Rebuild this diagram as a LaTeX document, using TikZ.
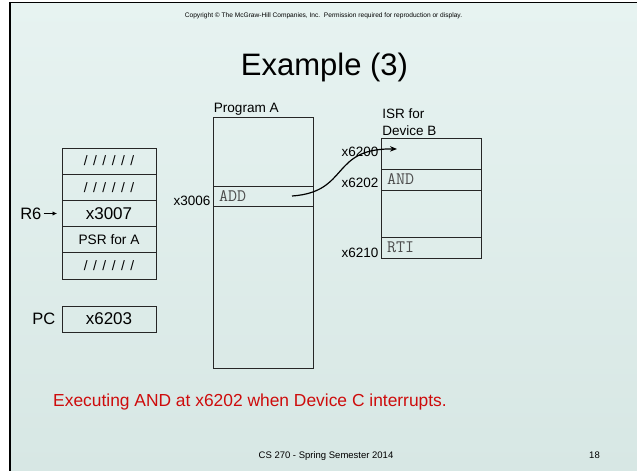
\documentclass[tikz,border=0pt]{standalone}
\usepackage{fontspec}
\setmainfont{Liberation Sans}
\usetikzlibrary{arrows.meta,positioning}
\definecolor{bgtop}{RGB}{231,243,241}
\definecolor{bgbot}{RGB}{215,231,228}
\definecolor{alertred}{RGB}{206,12,12}
\newcommand{\pxfont}[1]{\fontsize{#1}{#1}\selectfont}
\newcommand{\sixslash}{/\kern5.5pt/\kern5.5pt/\kern5.5pt/\kern5.5pt/\kern5.5pt/}
\begin{document}
\begin{tikzpicture}[x=1pt,y=-1pt,
    cell/.style={draw=black!85,line width=.8pt,minimum width=94pt,minimum height=26.2pt,inner sep=0pt,font=\pxfont{17}},
    mem/.style={draw=black!85,line width=.8pt,minimum width=100pt,inner sep=0pt},
    codeline/.style={mem,text width=88pt,inner xsep=6pt,align=left,font=\ttfamily\pxfont{17.5},text=black!70},
    addr/.style={inner sep=2pt,font=\pxfont{13.5}}]
    \useasboundingbox (0,0) rectangle (637,471);
    \fill[white] (0,0) rectangle (637,471);
    \shade[top color=bgtop,bottom color=bgbot] (10,2.5) rectangle (637,471);
    \draw[line width=2pt] (10,471)--(10,2.5);
    \draw[line width=1.7pt] (9,2.5)--(637,2.5);
    \node[font=\pxfont{6.6},anchor=base] (copy) at (323.5,17.5) {Copyright \textcopyright{} The McGraw-Hill Companies, Inc.\ \ Permission required for reproduction or display.};
    \node[font=\pxfont{31},anchor=base] (title) at (324.5,75) {Example (3)};
    \node[cell,font=\pxfont{13.7}] (s1) at (109,161.1) {\sixslash};
    \node[cell,font=\pxfont{13.7}] (s2) at (109,187.3) {\sixslash};
    \node[cell] (s3) at (109,213.5) {x3007};
    \node[cell,font=\pxfont{13.7}] (s4) at (109,239.7) {PSR for A};
    \node[cell,font=\pxfont{13.7}] (s5) at (109,265.9) {\sixslash};
    \node[font=\pxfont{16.5},inner sep=2pt,left=18pt of s3] (r6) {R6};
    \draw[-{Latex[length=4.5pt,width=4.5pt]},line width=.8pt,shorten >=4.6pt] (r6.east)--(s3.west);
    \node[cell] (pc) at (109,319) {x6203};
    \node[font=\pxfont{16.5},inner sep=3pt,left=3pt of pc] (pclabel) {PC};
    \node[mem,minimum height=251pt] (progA) at (263,242.5) {};
    \node[codeline,minimum height=20pt] (addrow) at (263,196) {ADD};
    \node[font=\pxfont{13.6},inner sep=0pt,anchor=base west] (progAlabel) at ([yshift=4pt,xshift=1pt]progA.north west) {Program A};
    \node[addr,anchor=base east] (a3006) at ([yshift=1pt]addrow.south west) {x3006};
    \node[mem,minimum height=120pt] (isr) at (431,198) {};
    \node[codeline,minimum height=21pt] (androw) at (431,179.5) {AND};
    \node[codeline,minimum height=21pt] (rtirow) at (431,247.5) {RTI};
    \node[font=\fontsize{13.5}{17}\selectfont,align=left,inner sep=1.5pt,anchor=south west] (isrlabel) at (isr.north west) {ISR for\\Device B};
    \node[addr,anchor=east] (a6200) at ([yshift=-14pt]isr.north west) {x6200};
    \node[addr,anchor=base east] (a6202) at ([yshift=3pt]androw.south west) {x6202};
    \node[addr,anchor=base east] (a6210) at ([yshift=1pt]rtirow.south west) {x6210};
    \coordinate (jumpfrom) at (292,196);
    \coordinate (jumpto) at (397,149);
    \draw[-{Stealth[length=7pt,width=5.5pt]},line width=1.2pt] (jumpfrom) .. controls (350,192) and (330,148) .. (jumpto);
    \node[font=\pxfont{17.4},text=alertred,inner sep=0pt,anchor=base west] (note) at (53,406) {Executing AND at x6202 when Device C interrupts.};
    \node[font=\pxfont{9.5},anchor=base] (foot) at (326,458) {CS 270 - Spring Semester 2014};
    \node[font=\pxfont{9.5},anchor=base] (page) at (594.5,458) {18};
\end{tikzpicture}
\end{document}
